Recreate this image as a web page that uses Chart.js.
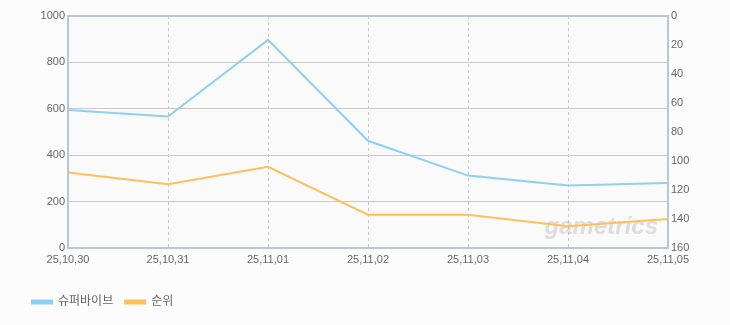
<!DOCTYPE html>
<html>
<head>
<meta charset="utf-8">
<script src="https://cdn.jsdelivr.net/npm/chart.js@4/dist/chart.umd.min.js"></script>
<style>
    html, body { margin: 0; padding: 0; background: #fcfcfc; }
    #wrap { width: 730px; height: 325px; }
</style>
</head>
<body>
<div id="wrap"><canvas id="rankChart" width="730" height="325"></canvas></div>
<script>
const dates = ['25,10,30', '25,10,31', '25,11,01', '25,11,02', '25,11,03', '25,11,04', '25,11,05'];
const superviveValues = [595, 567, 897, 462, 312, 269, 280];
const rankValues = [108, 116, 104, 137, 137, 145, 140];
const seriesNames = ['슈퍼바이브', '순위'];

const FONT = "'Liberation Sans', 'Noto Sans CJK KR', sans-serif";

// plot background, watermark and frame around the chart area
const framePlugin = {
    id: 'frame',
    beforeDraw(chart) {
        const { ctx, chartArea: a } = chart;
        ctx.save();
        ctx.fillStyle = '#fafafa';
        ctx.fillRect(a.left, a.top, a.right - a.left, a.bottom - a.top);
        ctx.restore();
    },
    beforeDatasetsDraw(chart) {
        const { ctx, chartArea: a } = chart;
        ctx.save();
        ctx.font = "italic bold 24px " + FONT;
        ctx.fillStyle = 'rgba(165,165,165,0.35)';
        ctx.textAlign = 'right';
        ctx.textBaseline = 'alphabetic';
        ctx.fillText('gametrics', a.right - 10, a.bottom - 14);
        ctx.restore();
    },
    afterDatasetsDraw(chart) {
        const { ctx, chartArea: a } = chart;
        ctx.save();
        ctx.strokeStyle = '#b5c7d9';
        ctx.lineWidth = 2;
        ctx.strokeRect(a.left, a.top, a.right - a.left, a.bottom - a.top);
        ctx.restore();
    }
};

new Chart(document.getElementById('rankChart'), {
    type: 'line',
    data: {
        labels: dates,
        datasets: [{
            label: seriesNames[0],
            data: superviveValues,
            yAxisID: 'y',
            borderColor: '#8fd0f0',
            backgroundColor: '#8fd0f0',
            borderWidth: 2,
            pointRadius: 0,
            tension: 0
        }, {
            label: seriesNames[1],
            data: rankValues,
            yAxisID: 'y1',
            borderColor: '#ffbf5c',
            backgroundColor: '#ffbf5c',
            borderWidth: 2,
            pointRadius: 0,
            tension: 0
        }]
    },
    options: {
        responsive: false,
        animation: false,
        devicePixelRatio: 1,
        layout: { padding: { top: 16, left: 20, right: 0, bottom: 7 } },
        plugins: {
            legend: {
                position: 'bottom',
                align: 'start',
                labels: {
                    boxWidth: 20,
                    boxHeight: 3,
                    padding: 12,
                    color: '#666',
                    font: { family: FONT, size: 12 }
                }
            },
            tooltip: { enabled: false }
        },
        scales: {
            x: {
                offset: false,
                grid: { color: '#c8c8c8', drawTicks: false },
                border: { display: false, dash: [3, 3] },
                ticks: {
                    color: '#666',
                    padding: 5,
                    maxRotation: 0,
                    autoSkip: false,
                    font: { family: FONT, size: 11 }
                },
                afterFit: scale => { scale.height = 36; }
            },
            y: {
                position: 'left',
                min: 0,
                max: 1000,
                ticks: {
                    stepSize: 200,
                    color: '#666',
                    padding: 3,
                    font: { family: FONT, size: 11 },
                    callback: v => String(v)
                },
                grid: { color: '#c8c8c8', drawTicks: false },
                border: { display: false },
                afterFit: scale => { scale.width = 48; }
            },
            y1: {
                position: 'right',
                reverse: true,
                min: 0,
                max: 160,
                ticks: {
                    stepSize: 20,
                    color: '#666',
                    padding: 3,
                    font: { family: FONT, size: 11 }
                },
                grid: { display: false, drawTicks: false },
                border: { display: false },
                afterFit: scale => { scale.width = 62; }
            }
        }
    },
    plugins: [framePlugin]
});
</script>
</body>
</html>
